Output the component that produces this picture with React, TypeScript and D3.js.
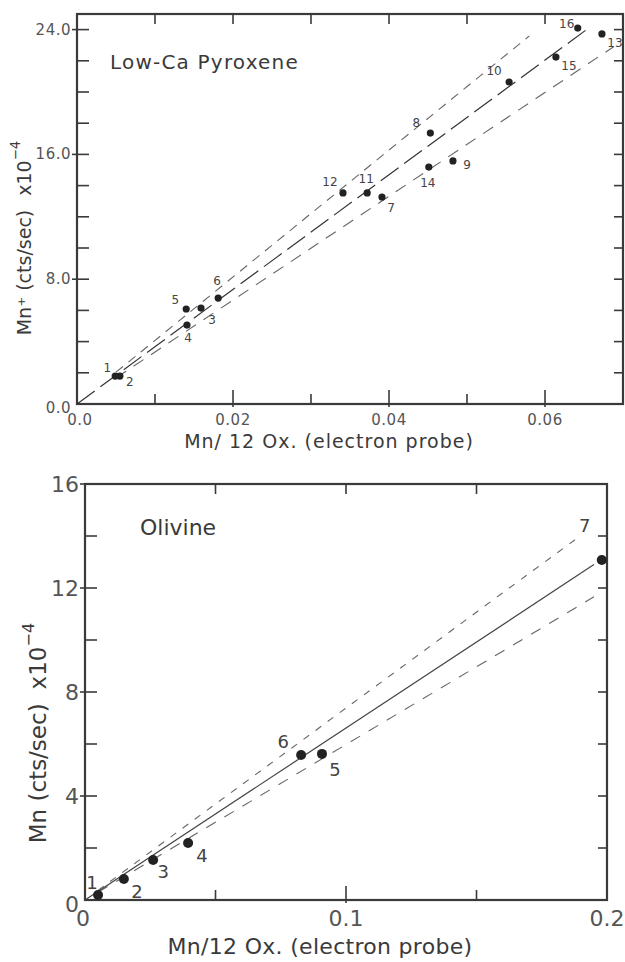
import React from "react";
import * as d3 from "d3";

// ---------- Low-Ca Pyroxene (top panel) ----------
const pyxIds = ["1", "2", "3", "4", "5", "6", "7", "8", "9", "10", "11", "12", "13", "14", "15", "16"];
const pyxX = [0.0049, 0.0055, 0.0159, 0.0141, 0.014, 0.0181, 0.0391, 0.0453, 0.0482, 0.0554, 0.0372, 0.0341, 0.0673, 0.0451, 0.0614, 0.0642];
const pyxY = [1.79, 1.79, 6.15, 5.06, 6.09, 6.79, 13.27, 17.37, 15.58, 20.64, 13.53, 13.53, 23.72, 15.19, 22.24, 24.1];
const pyxLabelDx = [-8, 10, 11, 1, -11, -1, 9, -14, 14, -15, -1, -13, 13, -1, 13, -11];
const pyxLabelDy = [-8, 6, 12, 13, -9, -17, 11, -10, 4, -11, -14, -11, 9, 16, 9, -4];
const pyxCenter: [number, number][] = [[0, 0], [0.0656, 24.1]];
const pyxUpper: [number, number][] = [[0.005, 2.04], [0.058, 23.6]];
const pyxLower: [number, number][] = [[0.005, 1.67], [0.0688, 22.9]];
const pyxYTickLabels = ["0.0", "8.0", "16.0", "24.0"];
const pyxYTickValues = [0, 8, 16, 24];
const pyxXTickLabels = ["0.0", "0.02", "0.04", "0.06"];
const pyxXTickValues = [0, 0.02, 0.04, 0.06];

// ---------- Olivine (bottom panel) ----------
const olIds = ["1", "2", "3", "4", "5", "6", "7"];
const olX = [0.005, 0.0149, 0.0261, 0.0395, 0.0908, 0.0828, 0.198];
const olY = [0.19, 0.81, 1.54, 2.19, 5.62, 5.58, 13.08];
const olLabelDx = [-6, 13, 10, 14, 13, -18, -17];
const olLabelDy = [-13, 13, 12, 12, 16, -13, -34];
const olCenter: [number, number][] = [[0, 0], [0.195, 12.9]];
const olUpper: [number, number][] = [[0.005, 0.37], [0.189, 13.95]];
const olLower: [number, number][] = [[0.005, 0.3], [0.195, 11.66]];
const olYTickLabels = ["0", "4", "8", "12", "16"];
const olYTickValues = [0, 4, 8, 12, 16];
const olXTickLabels = ["0", "0.1", "0.2"];
const olXTickValues = [0, 0.1, 0.2];

const FONT = "'DejaVu Sans', 'Liberation Sans', sans-serif";
const INK = "#3a3a3a";

type PanelProps = {
  x0: number; x1: number; y0: number; y1: number;
  xDomain: [number, number]; yDomain: [number, number];
  ids: string[]; xs: number[]; ys: number[]; ldx: number[]; ldy: number[];
  center: [number, number][]; upper: [number, number][]; lower: [number, number][];
  centerDash: string; upperDash: string; lowerDash: string;
  yTickValues: number[]; yTickLabels: string[];
  xTickValues: number[]; xTickLabels: string[];
  yMinor: number[]; xMinor: number[];
  tickFont: number; tickSpacing: number; pointFont: number; dotR: number;
  title: string; titleX: number; titleY: number; titleFont: number; titleSpacing: number;
  xTitle: string; xTitleX: number; xTitleY: number; xTitleFont: number; xTitleSpacing: number;
  yTitleMain: string; yTitleX: number; yTitleY: number; yTitleFont: number;
  yLabelY0?: number; xLabelX0?: number;
  xLabelBaseline: number;
  centerColor: string;
};

function Panel(p: PanelProps) {
  const xs = d3.scaleLinear().domain(p.xDomain).range([p.x0, p.x1]);
  const ys = d3.scaleLinear().domain(p.yDomain).range([p.y0, p.y1]);
  const line = d3.line<[number, number]>().x((d) => xs(d[0])).y((d) => ys(d[1]));
  const tickLen = 12;
  return (
    <g>
      <rect x={p.x0} y={p.y1} width={p.x1 - p.x0} height={p.y0 - p.y1} fill="none" stroke={INK} strokeWidth={2.2} />
      {p.yMinor.map((v, i) => (
        <line key={"yl" + i} x1={p.x0 - (p.yTickValues.includes(v) && v !== 0 ? 5 : 0)} x2={p.x0 + tickLen} y1={ys(v)} y2={ys(v)} stroke={INK} strokeWidth={1.6} />
      ))}
      {p.yMinor.filter((v) => v > p.yDomain[0]).map((v, i) => (
        <line key={"yr" + i} x1={p.x1 - 9} x2={p.x1} y1={ys(v)} y2={ys(v)} stroke={INK} strokeWidth={1.6} />
      ))}
      {p.xMinor.map((v, i) => (
        <line key={"xb" + i} x1={xs(v)} x2={xs(v)} y1={p.y0 + (p.xTickValues.includes(v) ? 3 : 0)} y2={p.y0 - (p.xTickValues.includes(v) ? 14 : 10)} stroke={INK} strokeWidth={1.6} />
      ))}
      {p.xMinor.map((v, i) => (
        <line key={"xt" + i} x1={xs(v)} x2={xs(v)} y1={p.y1} y2={p.y1 + 10} stroke={INK} strokeWidth={1.6} />
      ))}
      {p.yTickValues.map((v, i) => (
        <text key={"ytl" + i} x={p.x0 - 6} y={v === 0 && p.yLabelY0 !== undefined ? p.yLabelY0 : ys(v)} textAnchor="end" dominantBaseline="central" fontFamily={FONT} fontSize={p.tickFont} letterSpacing={p.tickSpacing} fill="#555">
          {p.yTickLabels[i]}
        </text>
      ))}
      {p.xTickValues.map((v, i) => (
        <text key={"xtl" + i} x={v === 0 && p.xLabelX0 !== undefined ? p.xLabelX0 : xs(v)} y={p.xLabelBaseline} textAnchor="middle" fontFamily={FONT} fontSize={p.tickFont} letterSpacing={p.tickSpacing} fill="#555">
          {p.xTickLabels[i]}
        </text>
      ))}
      <path d={line(p.upper) || ""} fill="none" stroke="#666" strokeWidth={1.1} strokeDasharray={p.upperDash} />
      <path d={line(p.lower) || ""} fill="none" stroke="#666" strokeWidth={1.1} strokeDasharray={p.lowerDash} />
      <path d={line(p.center) || ""} fill="none" stroke={p.centerColor} strokeWidth={1.2} strokeDasharray={p.centerDash} />
      {p.xs.map((v, i) => (
        <circle key={"pt" + i} cx={xs(v)} cy={ys(p.ys[i])} r={p.dotR} fill="#222" />
      ))}
      {p.xs.map((v, i) => (
        <text key={"pl" + i} x={xs(v) + p.ldx[i]} y={ys(p.ys[i]) + p.ldy[i]} textAnchor="middle" dominantBaseline="central" fontFamily={FONT} fontSize={p.pointFont} fill="#444">
          {p.ids[i]}
        </text>
      ))}
      <text x={p.titleX} y={p.titleY} fontFamily={FONT} fontSize={p.titleFont} letterSpacing={p.titleSpacing} fill={INK}>{p.title}</text>
      <text x={p.xTitleX} y={p.xTitleY} textAnchor="middle" fontFamily={FONT} fontSize={p.xTitleFont} letterSpacing={p.xTitleSpacing} fill={INK}>{p.xTitle}</text>
      <text transform={`translate(${p.yTitleX},${p.yTitleY}) rotate(-90)`} textAnchor="middle" dominantBaseline="central" fontFamily={FONT} fontSize={p.yTitleFont} fill={INK}>
        {p.yTitleMain}
        <tspan dx={14}>x10</tspan>
        <tspan dy={-p.yTitleFont * 0.45} fontSize={p.yTitleFont * 0.7}>−4</tspan>
      </text>
    </g>
  );
}

export default function App() {
  const pyxMinorY = d3.range(0, 25, 2);
  const pyxMinorX = d3.range(1, 7).map((d) => d / 100);
  const olMinorY = d3.range(0, 17, 2);
  const olMinorX = [0.05, 0.1, 0.15];
  return (
    <svg width={625} height={962} style={{ position: "absolute", left: 0, top: 0, background: "#fff" }}>
      <rect x={0} y={0} width={625} height={962} fill="#fff" />
      <Panel
        x0={77} x1={623} y0={404} y1={14}
        xDomain={[0, 0.07]} yDomain={[0, 25]}
        ids={pyxIds} xs={pyxX} ys={pyxY} ldx={pyxLabelDx} ldy={pyxLabelDy}
        center={pyxCenter} upper={pyxUpper} lower={pyxLower}
        centerDash="22 7" upperDash="9 7" lowerDash="12 9"
        yTickValues={pyxYTickValues} yTickLabels={pyxYTickLabels}
        xTickValues={pyxXTickValues} xTickLabels={pyxXTickLabels}
        yMinor={pyxMinorY} xMinor={pyxMinorX}
        tickFont={15} tickSpacing={0.5} pointFont={12} dotR={3.6}
        title="Low-Ca  Pyroxene" titleX={110} titleY={69} titleFont={20} titleSpacing={1.2}
        xTitle="Mn/ 12 Ox. (electron probe)" xTitleX={329} xTitleY={448} xTitleFont={19} xTitleSpacing={1}
        yTitleMain="Mn⁺ (cts/sec)" yTitleX={24} yTitleY={238} yTitleFont={19}
        yLabelY0={408} xLabelX0={80}
        xLabelBaseline={425}
        centerColor="#333"
      />
      <Panel
        x0={85} x1={607} y0={900} y1={484}
        xDomain={[0, 0.2]} yDomain={[0, 16]}
        ids={olIds} xs={olX} ys={olY} ldx={olLabelDx} ldy={olLabelDy}
        center={olCenter} upper={olUpper} lower={olLower}
        centerDash="none" upperDash="7 8" lowerDash="11 10"
        yTickValues={olYTickValues} yTickLabels={olYTickLabels}
        xTickValues={olXTickValues} xTickLabels={olXTickLabels}
        yMinor={olMinorY} xMinor={olMinorX}
        tickFont={22} tickSpacing={0} pointFont={18} dotR={5}
        title="Olivine" titleX={140} titleY={535} titleFont={22} titleSpacing={0}
        xTitle="Mn/12 Ox. (electron probe)" xTitleX={320} xTitleY={954} xTitleFont={22} xTitleSpacing={0.3}
        yTitleMain="Mn (cts/sec)" yTitleX={38} yTitleY={733} yTitleFont={23}
        yLabelY0={904} xLabelX0={83}
        xLabelBaseline={926}
        centerColor="#444"
      />
    </svg>
  );
}
